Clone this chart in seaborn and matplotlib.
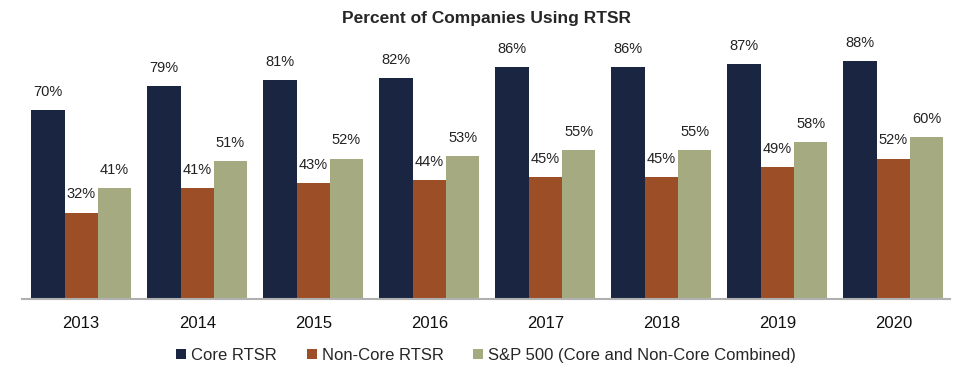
import matplotlib
matplotlib.use("Agg")
import matplotlib.pyplot as plt
import pandas as pd
import seaborn as sns

# dados
anos = ["2013", "2014", "2015", "2016", "2017", "2018", "2019", "2020"]
core_rtsr = [70, 79, 81, 82, 86, 86, 87, 88]
non_core_rtsr = [32, 41, 43, 44, 45, 45, 49, 52]
sp500 = [41, 51, 52, 53, 55, 55, 58, 60]
series = ["Core RTSR", "Non-Core RTSR", "S&P 500 (Core and Non-Core Combined)"]
cores = ["#1A2542", "#9C4F27", "#A5AA80"]

df = pd.DataFrame({
    "ano": anos * 3,
    "serie": [series[0]] * 8 + [series[1]] * 8 + [series[2]] * 8,
    "valor": core_rtsr + non_core_rtsr + sp500,
})

sns.set_style("white")
plt.rcParams["font.family"] = ["Liberation Sans", "DejaVu Sans"]

fig = plt.figure(figsize=(9.74, 3.77), dpi=100)
ax = fig.add_axes([0.0226, 0.207, 0.953, 0.716])

sns.barplot(data=df, x="ano", y="valor", hue="serie", palette=cores,
            width=0.86, gap=0, linewidth=0, saturation=1, ax=ax)

for cont in ax.containers:
    ax.bar_label(cont, labels=[f"{v:.0f}%" for v in cont.datavalues],
                 padding=8, fontsize=10.5, color="#222222")

ax.set_ylim(0, 100)
ax.set_xlim(-0.51, 7.49)
ax.set_yticks([])
ax.set_xlabel("")
ax.set_ylabel("")
for lado in ["top", "right", "left"]:
    ax.spines[lado].set_visible(False)
ax.spines["bottom"].set_color("#b0b0b0")
ax.spines["bottom"].set_linewidth(1.5)
ax.tick_params(axis="x", length=0, labelsize=12, pad=12, colors="#111111")

ax.set_title("Percent of Companies Using RTSR", fontsize=12.5, fontweight="bold", pad=4)

handles, labels = ax.get_legend_handles_labels()
ax.legend(handles, labels, loc="upper center", bbox_to_anchor=(0.5, -0.125),
          ncol=3, frameon=False, fontsize=12, handlelength=0.6, handleheight=0.6,
          handletextpad=0.3, columnspacing=1.8)

fig.savefig("out.png", dpi=100)
